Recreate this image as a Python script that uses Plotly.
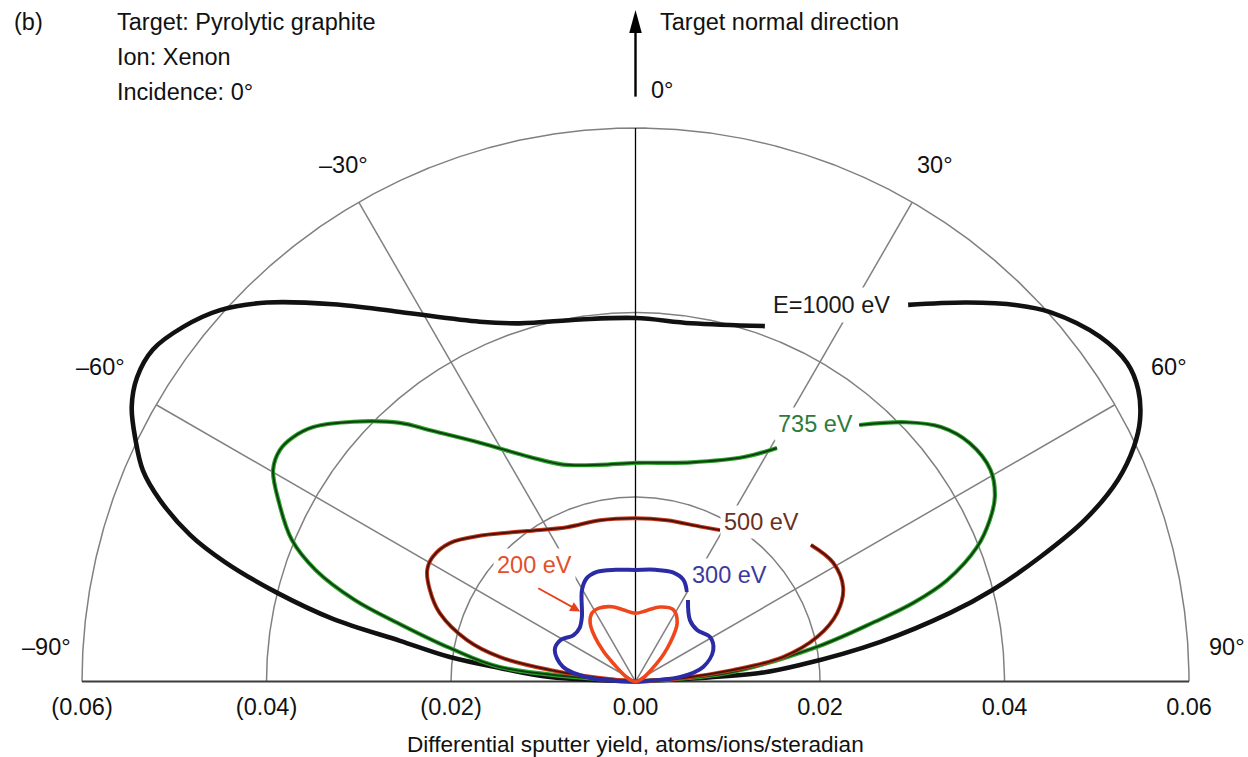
import numpy as np
import plotly.graph_objects as go

# Emission angle measured from the target normal (deg) and
# differential sputter yield (atoms/ion/steradian) for each ion energy.
e1000_angle = [-90, -87.0, -84.3, -82.5, -80.2, -78.3, -76.1, -73.8, -71.8, -69.1, -66.8,
               -64.2, -61.4, -58.6, -55.5, -51.9, -48.2, -44.2, -38.7, -32.5, -23.4, -17.9,
               -8.7, 0, 8.8, 20.0, 35.9, 41.2, 45.4, 48.3, 53.4, 57.1, 59.9, 62.6, 64.8,
               67.3, 70.2, 72.9, 75.6, 77.7, 80.8, 84.3, 86.1, 90]
e1000_yield = [0, 0.0093, 0.0148, 0.0203, 0.0259, 0.0335, 0.0400, 0.0463, 0.0508, 0.0552, 0.0581,
               0.0602, 0.0622, 0.0633, 0.0635, 0.0623, 0.0604, 0.0573, 0.0524, 0.0475, 0.0425, 0.0408,
               0.0397, 0.0394, 0.0393, 0.0410, 0.0504, 0.0546, 0.0581, 0.0602, 0.0627, 0.0635, 0.0630,
               0.0616, 0.0597, 0.0567, 0.0518, 0.0459, 0.0400, 0.0349, 0.0269, 0.0179, 0.0135, 0]

e735_angle = [-90, -83.9, -79.8, -76.3, -73.8, -70.8, -67.6, -63.4, -59.7, -56.9, -54.5, -51.7,
              -47.4, -42.3, -39.3, -33.1, -25.2, -18.5, -9.3, 0, 14.2, 26.0, 31.2, 41.1, 46.2,
              50.2, 54.5, 59.2, 62.8, 65.5, 68.5, 72.0, 74.2, 76.0, 79.2, 84.7, 90]
e735_yield = [0, 0.0148, 0.0204, 0.0263, 0.0317, 0.0367, 0.0403, 0.0432, 0.0455, 0.0460, 0.0456,
              0.0445, 0.0416, 0.0379, 0.0352, 0.0309, 0.0269, 0.0248, 0.0238, 0.0237, 0.0245,
              0.0271, 0.0296, 0.0369, 0.0406, 0.0431, 0.0445, 0.0448, 0.0438, 0.0422, 0.0398,
              0.0355, 0.0313, 0.0267, 0.0200, 0.0100, 0]

e500_angle = [-90, -84.4, -82.3, -79.8, -76.2, -70.7, -66.0, -61.9, -58.4, -53.3, -46.2, -35.8,
              -23.9, -12.4, 0, 11.0, 22.7, 29.2, 52.1, 59.0, 65.7, 71.2, 76.2, 80.6, 83.3, 85.8, 90]
e500_yield = [0, 0.0039, 0.0094, 0.0149, 0.0188, 0.0225, 0.0244, 0.0256, 0.0258, 0.0251, 0.0229,
              0.0201, 0.0183, 0.0179, 0.0177, 0.0178, 0.0182, 0.0188, 0.0241, 0.0250, 0.0247,
              0.0231, 0.0203, 0.0162, 0.0106, 0.0052, 0]

e300_angle = [-90, -85.6, -78.7, -68.6, -61.2, -53.4, -46.1, -39.7, -30.3, -25.1, -19.4, -10, 0,
              10, 18.9, 25.1, 29.9, 32.8, 41.5, 50.1, 59.2, 67.9, 77.9, 84.2, 90]
e300_yield = [0, 0.0049, 0.0080, 0.0094, 0.0093, 0.0084, 0.0084, 0.0091, 0.0115, 0.0124, 0.0126,
              0.0123, 0.0121, 0.0123, 0.0125, 0.0122, 0.0112, 0.0105, 0.0089, 0.0087, 0.0094,
              0.0091, 0.0075, 0.0049, 0]

e200_angle = [-90, -50.6, -44.2, -37.9, -32.4, -27.0, -17.5, -9.9, 0, 9.1, 18.2, 27.7, 35.4,
              41.9, 49.3, 90]
e200_yield = [0, 0.0032, 0.0058, 0.0080, 0.0088, 0.0089, 0.0085, 0.0079, 0.0074, 0.0078, 0.0085,
              0.0088, 0.0078, 0.0056, 0.0031, 0]

ring_values = [0.02, 0.04, 0.06]
spoke_angles = [-60, -30, 30, 60]
tick_values = [-0.06, -0.04, -0.02, 0.0, 0.02, 0.04, 0.06]
tick_text = ["(0.06)", "(0.04)", "(0.02)", "0.00", "0.02", "0.04", "0.06"]
angle_labels = ["\u201390\u00b0", "\u201360\u00b0", "\u201330\u00b0", "30\u00b0", "60\u00b0", "90\u00b0"]

FONT = "Liberation Sans, Arial, sans-serif"
GRID = "#808080"
TXT = 23.5


def polar_xy(angle, yld, break_at=None):
    """Convert (angle from normal, yield) to plane coordinates; optionally
    leave a gap in the line where the curve label sits."""
    xs, ys = [], []
    prev = None
    for a, r in zip(angle, yld):
        if break_at is not None and prev is not None and prev < break_at < a:
            xs.append(None)
            ys.append(None)
        t = np.radians(a)
        xs.append(float(r * np.sin(t)))
        ys.append(float(r * np.cos(t)))
        prev = a
    return xs, ys


fig = go.Figure()

# polar grid: rings, spokes, normal line and baseline
arc = np.radians(np.linspace(-90, 90, 721))
for rv in ring_values:
    fig.add_trace(go.Scatter(x=rv * np.sin(arc), y=rv * np.cos(arc), mode="lines",
                             line=dict(color=GRID, width=1.5), hoverinfo="skip"))
for sa in spoke_angles:
    t = np.radians(sa)
    fig.add_trace(go.Scatter(x=[0, 0.06 * np.sin(t)], y=[0, 0.06 * np.cos(t)], mode="lines",
                             line=dict(color=GRID, width=1.5), hoverinfo="skip"))
fig.add_trace(go.Scatter(x=[0, 0], y=[0, 0.06], mode="lines",
                         line=dict(color="#000000", width=1.3), hoverinfo="skip"))
fig.add_trace(go.Scatter(x=[-0.06, 0.06], y=[0, 0], mode="lines",
                         line=dict(color="#3c3c3c", width=2), hoverinfo="skip"))

# sputter-yield curves (halo + core for the two-tone lines)
curves = [
    (e1000_angle, e1000_yield, 28, [("#111111", 4.6)]),
    (e735_angle, e735_yield, 36, [("#2aa52a", 4.2), ("#123d12", 2.0)]),
    (e500_angle, e500_yield, 40, [("#c8381a", 4.0), ("#4a120a", 2.0)]),
    (e300_angle, e300_yield, 31, [("#2b2ba6", 4.0)]),
    (e200_angle, e200_yield, None, [("#f0461c", 3.6)]),
]
for ang, yld, gap, styles in curves:
    xs, ys = polar_xy(ang, yld, gap)
    for color, width in styles:
        fig.add_trace(go.Scatter(x=xs, y=ys, mode="lines", connectgaps=False,
                                 line=dict(color=color, width=width, shape="spline", smoothing=1.0),
                                 hoverinfo="skip"))

annotations = []


def label(text, x, y, color, size=TXT, xanchor="center", bg=None, pad=3):
    annotations.append(dict(text=text, x=x, y=y, xref="x", yref="y", showarrow=False,
                            xanchor=xanchor, yanchor="middle",
                            font=dict(family=FONT, size=size, color=color),
                            bgcolor=bg, borderpad=pad))


# curve labels (white boxes interrupt the grid lines behind them)
label("E=1000 eV", 0.0213, 0.0408, "#1a1a1a", bg="white", pad=4)
label("735 eV", 0.0195, 0.0279, "#2e7a3a", bg="white", pad=3)
label("500 eV", 0.0137, 0.0173, "#6b3020", bg="white", pad=3)
label("300 eV", 0.0102, 0.0115, "#3a3aa0", bg="white", pad=3)
label("200 eV", -0.0109, 0.0126, "#e2502a", bg="white", pad=3)

# angle labels around the rim
label(angle_labels[0], -0.0608, 0.0037, "#111111", xanchor="right")
label(angle_labels[5], 0.0617, 0.0037, "#111111", xanchor="left")
label(angle_labels[1], -0.0549, 0.0341, "#111111", xanchor="right")
label(angle_labels[4], 0.0555, 0.0341, "#111111", xanchor="left")
label(angle_labels[2], -0.0316, 0.0560, "#111111")
label(angle_labels[3], 0.0325, 0.0560, "#111111")
label("0\u00b0", 0.0012, 0.0641, "#111111", xanchor="left")

# pointer from the 200 eV label to its curve
annotations.append(dict(x=-0.0060, y=0.0076, ax=-0.0107, ay=0.0102, xref="x", yref="y",
                        axref="x", ayref="y", text="", showarrow=True, arrowhead=2,
                        arrowsize=1.1, arrowwidth=1.8, arrowcolor="#e8401a", standoff=0))

# target-normal arrow
fig.add_trace(go.Scatter(x=[0, 0], y=[0.0634, 0.0708], mode="lines",
                         line=dict(color="#000000", width=2.4), hoverinfo="skip"))
fig.add_shape(type="path", path="M 0,0.0728 L -0.00068,0.0703 L 0.00068,0.0703 Z",
              xref="x", yref="y", fillcolor="#000000", line=dict(width=0))

# header text
H = 690.0
for txt, px, py in [("(b)", 12, 22), ("Target: Pyrolytic graphite", 115, 22),
                    ("Ion: Xenon", 115, 57), ("Incidence: 0\u00b0", 115, 92),
                    ("Target normal direction", 658, 22)]:
    annotations.append(dict(text=txt, x=px / 1248.0, y=1 - py / H, xref="paper", yref="paper",
                            xanchor="left", yanchor="middle", showarrow=False,
                            font=dict(family=FONT, size=TXT, color="#111111")))

# axis title, centred on the zero of the yield scale
annotations.append(dict(text="Differential sputter yield, atoms/ions/steradian",
                        x=0, y=(H - 745) / H, xref="x", yref="paper", xanchor="center",
                        yanchor="middle", showarrow=False,
                        font=dict(family=FONT, size=22.6, color="#111111")))

fig.update_layout(
    width=1248, height=757, autosize=False,
    margin=dict(l=0, r=0, t=0, b=67),
    paper_bgcolor="white", plot_bgcolor="white",
    showlegend=False,
    annotations=annotations,
    xaxis=dict(range=[-0.068889, 0.066396], tickvals=tick_values, ticktext=tick_text,
               showgrid=False, zeroline=False, showline=False, ticks="",
               ticklabelstandoff=0,
               tickfont=dict(family=FONT, size=TXT, color="#111111"),
               fixedrange=True),
    yaxis=dict(range=[-0.000921, 0.073875], visible=False, fixedrange=True),
)

fig.write_html("out.html", config={"displayModeBar": False})
